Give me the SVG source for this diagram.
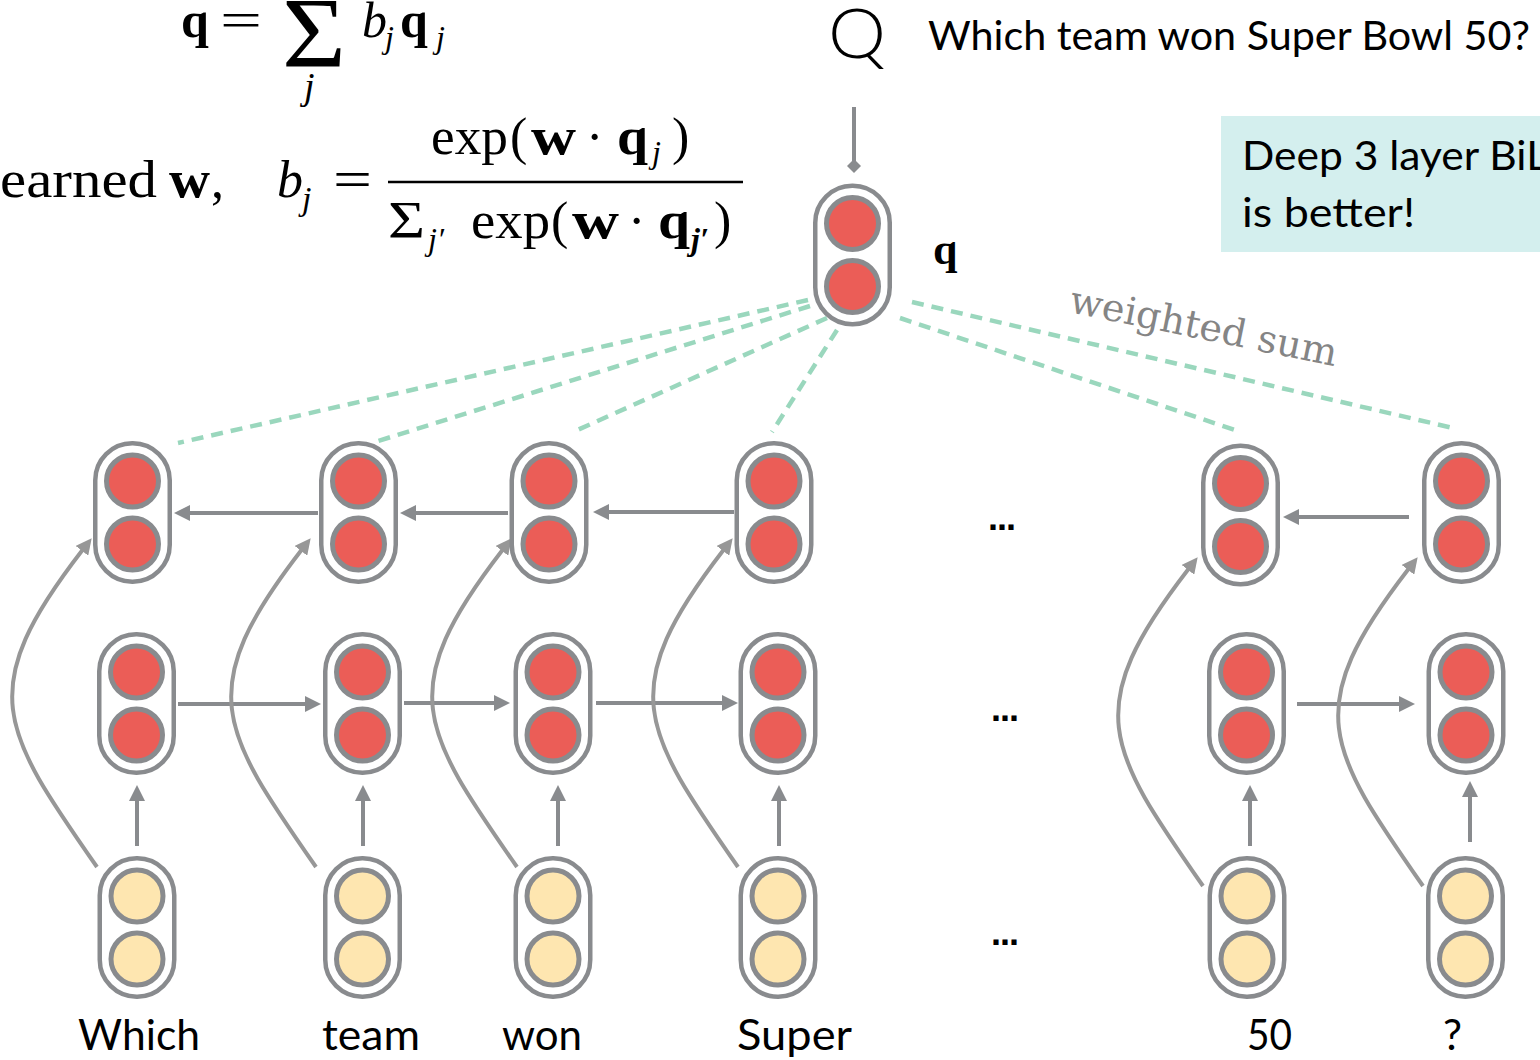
<svg xmlns="http://www.w3.org/2000/svg" xmlns:xlink="http://www.w3.org/1999/xlink" width="1540" height="1060" viewBox="0 0 1540 1060">
  <style>
    .math { font-family: "Liberation Serif", "Times New Roman", serif; fill: #000; }
    .bd { font-weight: bold; }
    .it { font-style: italic; }
    .word { font-family: Lato, "Open Sans", sans-serif; font-size: 42px; fill: #000; }
    .note { font-family: Lato, "Open Sans", sans-serif; font-size: 40px; fill: #000; }
    .dots { font-family: "Liberation Sans", Arial, sans-serif; font-size: 36px; font-weight: bold; fill: #000; }
    .link { stroke: #898b8e; stroke-width: 4; fill: none; marker-end: url(#ah); }
    .skip { stroke: #979797; stroke-width: 4; fill: none; marker-end: url(#ahc); }
    .attn { stroke: #9ad7bd; stroke-width: 4.5; fill: none; stroke-dasharray: 12 8; }
  </style>
  <defs>
    <marker id="ah" viewBox="0 0 16 16" refX="1" refY="8" markerWidth="16" markerHeight="16" markerUnits="userSpaceOnUse" orient="auto">
      <path d="M0,0 L16,8 L0,16 z" fill="#898b8e"/>
    </marker>
    <marker id="ahc" viewBox="0 0 16 16" refX="1" refY="8" markerWidth="16" markerHeight="16" markerUnits="userSpaceOnUse" orient="auto">
      <path d="M0,0 L16,8 L0,16 z" fill="#979797"/>
    </marker>
    <!-- two-unit cell, drawn around its centre -->
    <g id="cellR">
      <rect x="-37.25" y="-69.25" width="74.5" height="138.5" rx="37" fill="#fff" stroke="#898b8e" stroke-width="4.5"/>
      <circle cx="0" cy="-31.5" r="26" fill="#eb5d57" stroke="#898b8e" stroke-width="5"/>
      <circle cx="0" cy="31.5" r="26" fill="#eb5d57" stroke="#898b8e" stroke-width="5"/>
    </g>
    <g id="cellY">
      <rect x="-37.25" y="-69.25" width="74.5" height="138.5" rx="37" fill="#fff" stroke="#898b8e" stroke-width="4.5"/>
      <circle cx="0" cy="-31.5" r="26" fill="#fee6b0" stroke="#898b8e" stroke-width="5"/>
      <circle cx="0" cy="31.5" r="26" fill="#fee6b0" stroke="#898b8e" stroke-width="5"/>
    </g>
    <path id="skipPath" d="M97,867 C0,728 -25.5,689.5 82.5,550"/>
  </defs>

  <rect width="1540" height="1060" fill="#fff"/>

  <!-- formulas -->
  <g id="formula-sum">
    <text class="math bd" x="181" y="37" font-size="50">q</text>
    <text class="math" x="220" y="37" font-size="50" textLength="42" lengthAdjust="spacingAndGlyphs">=</text>
    <text class="math" x="282" y="66" font-size="100" textLength="64" lengthAdjust="spacingAndGlyphs">Σ</text>
    <text class="math it" x="304" y="99" font-size="38">j</text>
    <text class="math it" x="362" y="37" font-size="50">b</text>
    <text class="math it" x="385" y="48" font-size="32">j</text>
    <text class="math bd" x="400" y="37" font-size="50">q</text>
    <text class="math it" x="436" y="48" font-size="32">j</text>
  </g>
  <g id="formula-weights">
    <text class="math" x="0" y="197" font-size="52" textLength="157" lengthAdjust="spacingAndGlyphs">earned</text>
    <text class="math bd" x="169" y="197" font-size="52" textLength="41" lengthAdjust="spacingAndGlyphs">w</text>
    <text class="math" x="211" y="197" font-size="52">,</text>
    <text class="math it" x="277" y="197" font-size="52">b</text>
    <text class="math it" x="302" y="210" font-size="34">j</text>
    <text class="math" x="333" y="197" font-size="52" textLength="39" lengthAdjust="spacingAndGlyphs">=</text>
    <line x1="388" y1="182" x2="743" y2="182" stroke="#000" stroke-width="2.5"/>
    <text class="math" x="431" y="154" font-size="52" textLength="77" lengthAdjust="spacingAndGlyphs">exp</text>
    <text class="math" x="510" y="154" font-size="52">(</text>
    <text class="math bd" x="531" y="154" font-size="52" textLength="45" lengthAdjust="spacingAndGlyphs">w</text>
    <text class="math" x="586" y="154" font-size="52">·</text>
    <text class="math bd" x="617" y="154" font-size="52" textLength="31" lengthAdjust="spacingAndGlyphs">q</text>
    <text class="math it" x="652" y="163" font-size="32">j</text>
    <text class="math" x="672" y="154" font-size="52">)</text>
    <text class="math" x="388" y="238" font-size="52" textLength="37" lengthAdjust="spacingAndGlyphs">Σ</text>
    <text class="math it" x="428" y="250" font-size="32">j′</text>
    <text class="math" x="471" y="238" font-size="52" textLength="79" lengthAdjust="spacingAndGlyphs">exp</text>
    <text class="math" x="551" y="238" font-size="52">(</text>
    <text class="math bd" x="572" y="238" font-size="52" textLength="47" lengthAdjust="spacingAndGlyphs">w</text>
    <text class="math" x="628" y="238" font-size="52">·</text>
    <text class="math bd" x="658" y="238" font-size="52" textLength="32" lengthAdjust="spacingAndGlyphs">q</text>
    <text class="math bd it" x="691" y="250" font-size="32">j′</text>
    <text class="math" x="714" y="238" font-size="52">)</text>
  </g>

  <!-- question -->
  <g id="question">
    <text x="828" y="58" font-family="Lato, 'Open Sans', sans-serif" font-weight="300" font-size="68" fill="#000" textLength="58" lengthAdjust="spacingAndGlyphs">Q</text>
    <text class="note" x="928" y="50" textLength="602" lengthAdjust="spacingAndGlyphs">Which team won Super Bowl 50?</text>
  </g>

  <!-- note box -->
  <g id="note-box">
    <rect x="1221" y="116" width="330" height="136" fill="#d4efee"/>
    <text class="note" x="1242" y="170" textLength="306" lengthAdjust="spacingAndGlyphs">Deep 3 layer BiL</text>
    <text class="note" x="1242" y="227" textLength="173" lengthAdjust="spacingAndGlyphs">is better!</text>
  </g>

  <!-- attention weights -->
  <g id="attention">
    <line class="attn" x1="808" y1="300" x2="178" y2="443"/>
    <line class="attn" x1="810" y1="306" x2="378" y2="441"/>
    <line class="attn" x1="827" y1="318" x2="573" y2="432"/>
    <line class="attn" x1="837" y1="330" x2="772" y2="432"/>
    <line class="attn" x1="900" y1="318" x2="1235" y2="430"/>
    <line class="attn" x1="912" y1="302" x2="1453" y2="428"/>
    <text transform="translate(1068,312) rotate(11.5)" font-family="'DejaVu Serif', 'Liberation Serif', serif" font-size="38" fill="#858585" textLength="272" lengthAdjust="spacingAndGlyphs">weighted sum</text>
  </g>

  <!-- connectors -->
  <g id="connectors">
    <line x1="854" y1="107" x2="854" y2="162" stroke="#898b8e" stroke-width="4"/>
    <path d="M854,159 L861,166 L854,173 L847,166 z" fill="#898b8e"/>

    <!-- backward layer -->
    <path class="link" d="M318,513 L189,513"/>
    <path class="link" d="M508,513 L415,513"/>
    <path class="link" d="M734,512 L608,512"/>
    <path class="link" d="M1409,517 L1298,517"/>

    <!-- forward layer -->
    <path class="link" d="M178,704 L306,704"/>
    <path class="link" d="M404,703 L495,703"/>
    <path class="link" d="M596,703 L723,703"/>
    <path class="link" d="M1297,704 L1400,704"/>

    <!-- embeddings to forward layer -->
    <path class="link" d="M137,846 L137,800"/>
    <path class="link" d="M363,846 L363,800"/>
    <path class="link" d="M558,846 L558,800"/>
    <path class="link" d="M779,846 L779,800"/>
    <path class="link" d="M1250,846 L1250,800"/>
    <path class="link" d="M1470,842 L1470,796"/>

    <!-- embeddings to backward layer -->
    <use xlink:href="#skipPath" href="#skipPath" class="skip"/>
    <use xlink:href="#skipPath" href="#skipPath" class="skip" transform="translate(219,0)"/>
    <use xlink:href="#skipPath" href="#skipPath" class="skip" transform="translate(420,0)"/>
    <use xlink:href="#skipPath" href="#skipPath" class="skip" transform="translate(641,0)"/>
    <use xlink:href="#skipPath" href="#skipPath" class="skip" transform="translate(1106,19)"/>
    <use xlink:href="#skipPath" href="#skipPath" class="skip" transform="translate(1326,19)"/>
  </g>

  <!-- question vector -->
  <g id="node-q">
    <use href="#cellR" x="852.5" y="255"/>
    <text x="933" y="264" font-family="'Liberation Serif', serif" font-weight="bold" font-size="44" fill="#000">q</text>
  </g>

  <!-- backward LSTM states -->
  <g id="node-bwd-which"><use href="#cellR" x="132.5" y="512.5"/></g>
  <g id="node-bwd-team"><use href="#cellR" x="358.5" y="512.5"/></g>
  <g id="node-bwd-won"><use href="#cellR" x="549" y="512.5"/></g>
  <g id="node-bwd-super"><use href="#cellR" x="774" y="512.5"/></g>
  <g id="node-bwd-50"><use href="#cellR" x="1240.5" y="515"/></g>
  <g id="node-bwd-q"><use href="#cellR" x="1461.5" y="512.5"/></g>

  <!-- forward LSTM states -->
  <g id="node-fwd-which"><use href="#cellR" x="136.5" y="703.5"/></g>
  <g id="node-fwd-team"><use href="#cellR" x="362.5" y="703.5"/></g>
  <g id="node-fwd-won"><use href="#cellR" x="553" y="703.5"/></g>
  <g id="node-fwd-super"><use href="#cellR" x="778" y="703.5"/></g>
  <g id="node-fwd-50"><use href="#cellR" x="1246.5" y="703.5"/></g>
  <g id="node-fwd-q"><use href="#cellR" x="1466" y="703.5"/></g>

  <!-- word embeddings -->
  <g id="node-emb-which"><use href="#cellY" x="137" y="927.5"/></g>
  <g id="node-emb-team"><use href="#cellY" x="362.5" y="927.5"/></g>
  <g id="node-emb-won"><use href="#cellY" x="553" y="927.5"/></g>
  <g id="node-emb-super"><use href="#cellY" x="778" y="927.5"/></g>
  <g id="node-emb-50"><use href="#cellY" x="1247" y="927.5"/></g>
  <g id="node-emb-q"><use href="#cellY" x="1465.5" y="927.5"/></g>

  <!-- ellipses -->
  <text class="dots" x="988" y="530" textLength="28" lengthAdjust="spacing">...</text>
  <text class="dots" x="991" y="721" textLength="28" lengthAdjust="spacing">...</text>
  <text class="dots" x="991" y="945" textLength="28" lengthAdjust="spacing">...</text>

  <!-- tokens -->
  <g id="tokens">
    <text class="word" x="78" y="1050" textLength="122" lengthAdjust="spacingAndGlyphs">Which</text>
    <text class="word" x="322" y="1050" textLength="98" lengthAdjust="spacingAndGlyphs">team</text>
    <text class="word" x="502" y="1050" textLength="80" lengthAdjust="spacingAndGlyphs">won</text>
    <text class="word" x="737" y="1050" textLength="115" lengthAdjust="spacingAndGlyphs">Super</text>
    <text class="word" x="1247" y="1050" textLength="45" lengthAdjust="spacingAndGlyphs">50</text>
    <text class="word" x="1443" y="1050" textLength="19" lengthAdjust="spacingAndGlyphs">?</text>
  </g>
</svg>
